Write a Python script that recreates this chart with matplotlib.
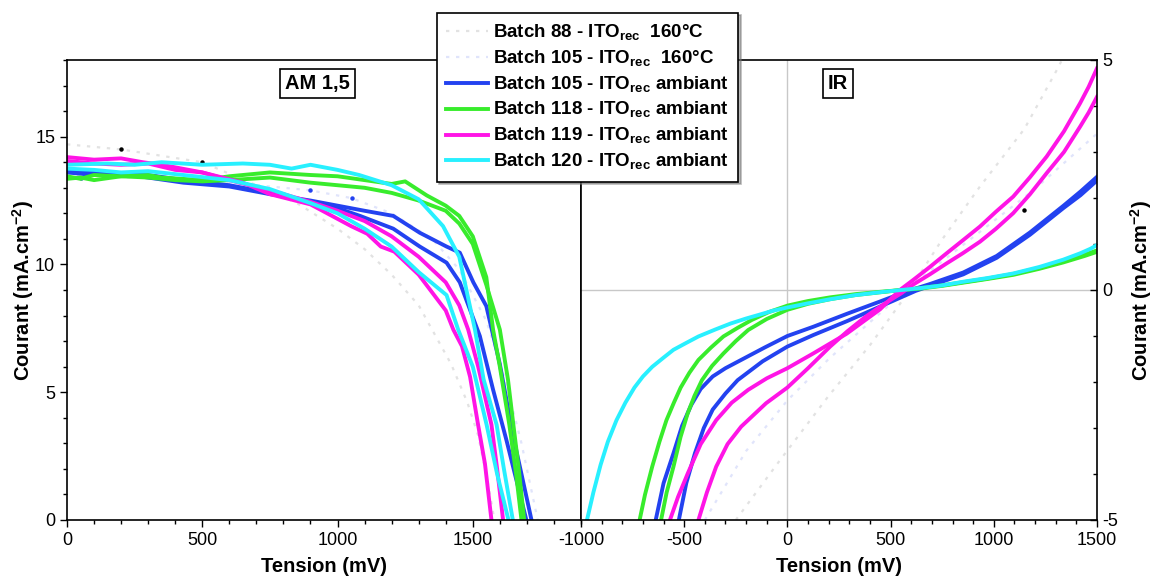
import matplotlib
matplotlib.use("Agg")
import matplotlib.pyplot as plt
from matplotlib.ticker import MultipleLocator
from matplotlib.lines import Line2D

plt.rcParams['font.family'] = ['Liberation Sans', 'DejaVu Sans']
plt.rcParams['mathtext.fontset'] = 'custom'
plt.rcParams['mathtext.rm'] = 'Liberation Sans'
plt.rcParams['mathtext.bf'] = 'Liberation Sans:bold'
plt.rcParams['axes.unicode_minus'] = False

# ---------------- data: AM 1,5 panel (tension mV, courant mA.cm-2) ----------------
am_b88_160_v = [0, 200, 500, 700, 850, 1000, 1100, 1200, 1300, 1420, 1480, 1520, 1555, 1580]
am_b88_160_j = [14.7, 14.5, 14.0, 13.1, 12.4, 11.4, 10.6, 9.6, 8.4, 6.1, 4.6, 3.3, 1.5, 0]
am_b105_160_v = [0, 500, 900, 1050, 1200, 1350, 1450, 1550, 1620, 1680, 1740]
am_b105_160_j = [13.5, 13.3, 12.9, 12.6, 12.0, 11.0, 9.8, 7.8, 5.5, 3.0, 0]
am_b88_mark_v = [200, 500]
am_b88_mark_j = [14.5, 14.0]
am_b105_mark_v = [50, 898, 1053]
am_b105_mark_j = [13.4, 12.9, 12.6]

am_b105a_v = [0, 100, 200, 300, 430, 600, 750, 900, 1000, 1083, 1206, 1304, 1403, 1452, 1526, 1575, 1625, 1698]
am_b105a_j = [13.7, 13.6, 13.55, 13.5, 13.3, 13.1, 12.8, 12.45, 12.2, 11.9, 11.4, 10.7, 10.07, 9.3, 7.2, 5.1, 3.1, 0]
am_b105b_v = [0, 100, 200, 300, 430, 600, 750, 900, 1000, 1100, 1206, 1304, 1403, 1452, 1502, 1550, 1600, 1649, 1717]
am_b105b_j = [13.6, 13.5, 13.55, 13.4, 13.2, 13.05, 12.75, 12.5, 12.3, 12.1, 11.9, 11.24, 10.7, 10.46, 9.3, 8.37, 6.1, 3.3, 0]

am_b118a_v = [0, 50, 100, 200, 300, 350, 500, 600, 750, 900, 1000, 1100, 1200, 1250, 1330, 1400, 1450, 1500, 1550, 1575, 1600, 1635, 1660, 1680]
am_b118a_j = [13.45, 13.35, 13.5, 13.45, 13.5, 13.4, 13.3, 13.45, 13.6, 13.5, 13.45, 13.3, 13.15, 13.25, 12.7, 12.3, 11.9, 11.1, 9.5, 7.45, 6.0, 3.73, 1.8, 0]
am_b118b_v = [0, 50, 100, 200, 300, 400, 500, 600, 750, 900, 1000, 1100, 1200, 1300, 1400, 1450, 1500, 1550, 1600, 1630, 1650, 1670, 1690]
am_b118b_j = [13.35, 13.4, 13.3, 13.45, 13.4, 13.3, 13.25, 13.3, 13.4, 13.2, 13.1, 13.0, 12.8, 12.5, 12.1, 11.6, 10.8, 9.2, 7.45, 5.5, 3.73, 2.0, 0]

am_b119a_v = [0, 100, 200, 280, 350, 500, 650, 750, 900, 1050, 1110, 1160, 1210, 1300, 1400, 1428, 1460, 1490, 1520, 1545, 1569]
am_b119a_j = [14.2, 14.1, 14.15, 14.0, 13.9, 13.6, 13.2, 12.75, 12.35, 11.5, 11.2, 10.7, 10.5, 9.6, 8.2, 7.45, 6.8, 5.6, 3.7, 2.2, 0]
am_b119b_v = [0, 100, 200, 300, 400, 500, 600, 750, 900, 1000, 1100, 1200, 1300, 1400, 1450, 1483, 1520, 1569, 1590, 1612]
am_b119b_j = [14.05, 13.95, 13.9, 13.95, 13.7, 13.6, 13.3, 12.9, 12.45, 12.1, 11.7, 11.1, 10.3, 9.3, 8.4, 7.45, 6.0, 3.73, 2.0, 0]

am_b120a_v = [0, 150, 250, 350, 500, 650, 750, 830, 900, 1000, 1080, 1200, 1300, 1390, 1450, 1508, 1540, 1588, 1615, 1648]
am_b120a_j = [13.9, 13.95, 13.9, 14.0, 13.9, 13.95, 13.9, 13.75, 13.9, 13.7, 13.5, 13.1, 12.55, 11.5, 10.3, 7.45, 5.5, 3.73, 2.0, 0]
am_b120b_v = [0, 100, 200, 300, 430, 600, 750, 900, 1000, 1100, 1200, 1300, 1403, 1446, 1500, 1551, 1590, 1632]
am_b120b_j = [13.75, 13.7, 13.6, 13.65, 13.5, 13.3, 12.95, 12.4, 12.0, 11.4, 10.7, 9.7, 8.8, 7.45, 6.0, 3.73, 1.8, 0]

# ---------------- data: IR panel ----------------
ir_b88_160_v = [-250, -36, 200, 400, 578, 750, 933, 1148, 1305, 1330]
ir_b88_160_j = [-5, -3.7, -2.3, -1.2, -0.1, 1.1, 2.25, 3.5, 4.78, 5]
ir_b105_160_v = [-400, -200, 0, 200, 400, 600, 800, 1000, 1200, 1400, 1500]
ir_b105_160_j = [-5, -3.5, -2.4, -1.5, -0.7, 0.1, 0.8, 1.5, 2.2, 3.0, 3.4]
ir_b88_mark_v = [1148]
ir_b88_mark_j = [1.74]

ir_b105a_v = [-638, -600, -552, -510, -466, -420, -362, -300, -224, -110, 0, 125, 287, 449, 578, 691, 852, 1014, 1175, 1337, 1420, 1500]
ir_b105a_j = [-5, -4.2, -3.55, -2.95, -2.5, -2.15, -1.88, -1.7, -1.52, -1.25, -1.0, -0.8, -0.52, -0.25, -0.03, 0.13, 0.38, 0.74, 1.25, 1.83, 2.14, 2.46]
ir_b105b_v = [-526, -490, -448, -405, -362, -300, -241, -120, 0, 125, 287, 449, 621, 691, 852, 1014, 1175, 1337, 1420, 1500]
ir_b105b_j = [-5, -4.2, -3.55, -3.0, -2.6, -2.25, -1.96, -1.55, -1.23, -0.98, -0.68, -0.36, -0.02, 0.09, 0.34, 0.7, 1.2, 1.78, 2.06, 2.38]

ir_b118a_v = [-716, -690, -655, -620, -586, -550, -517, -475, -431, -370, -310, -240, -172, -90, 0, 100, 207, 330, 449, 552, 642, 750, 852, 970, 1095, 1220, 1337, 1440, 1500]
ir_b118a_j = [-5, -4.45, -3.84, -3.3, -2.83, -2.45, -2.12, -1.8, -1.52, -1.25, -1.01, -0.82, -0.65, -0.48, -0.34, -0.24, -0.16, -0.09, -0.04, 0.0, 0.03, 0.09, 0.16, 0.24, 0.33, 0.46, 0.6, 0.74, 0.83]
ir_b118b_v = [-612, -585, -552, -518, -483, -450, -414, -365, -310, -250, -190, -100, 0, 100, 207, 330, 449, 552, 642, 750, 852, 970, 1095, 1220, 1337, 1440, 1500]
ir_b118b_j = [-5, -4.4, -3.84, -3.2, -2.68, -2.3, -1.96, -1.65, -1.38, -1.11, -0.87, -0.63, -0.43, -0.3, -0.2, -0.11, -0.05, 0.0, 0.04, 0.1, 0.17, 0.25, 0.35, 0.48, 0.62, 0.77, 0.86]

ir_b119a_v = [-569, -530, -483, -420, -345, -270, -190, -100, 0, 125, 287, 449, 545, 610, 690, 772, 850, 933, 1010, 1094, 1175, 1256, 1340, 1418, 1460, 1500]
ir_b119a_j = [-5, -4.5, -3.99, -3.35, -2.83, -2.45, -2.17, -1.92, -1.7, -1.38, -0.95, -0.42, 0.0, 0.22, 0.5, 0.8, 1.08, 1.38, 1.7, 2.03, 2.45, 2.9, 3.45, 4.06, 4.42, 4.82]
ir_b119b_v = [-431, -390, -345, -290, -224, -160, -103, 0, 100, 207, 290, 379, 470, 552, 610, 690, 772, 850, 933, 1010, 1094, 1175, 1256, 1340, 1418, 1460, 1500]
ir_b119b_j = [-5, -4.4, -3.84, -3.35, -2.97, -2.7, -2.46, -2.12, -1.7, -1.23, -0.9, -0.58, -0.3, -0.07, 0.12, 0.34, 0.58, 0.8, 1.05, 1.33, 1.67, 2.08, 2.54, 3.0, 3.55, 3.86, 4.2]

ir_b120a_v = [-971, -940, -905, -870, -828, -785, -741, -700, -655, -600, -552, -490, -431, -350, -276, -200, -138, -70, 0, 100, 207, 330, 465, 552, 642, 750, 852, 970, 1095, 1220, 1337, 1420, 1470, 1500]
ir_b120a_j = [-5, -4.4, -3.8, -3.3, -2.83, -2.45, -2.12, -1.88, -1.67, -1.47, -1.3, -1.15, -1.01, -0.86, -0.73, -0.62, -0.54, -0.45, -0.38, -0.29, -0.2, -0.11, -0.04, 0.0, 0.04, 0.1, 0.18, 0.26, 0.36, 0.5, 0.66, 0.8, 0.9, 0.98]

xticks_am = [0, 500, 1000, 1500]
yticks_am = [0, 5, 10, 15]
xticks_ir = [-1000, -500, 0, 500, 1000, 1500]
yticks_ir = [-5, 0, 5]

labels = [r"Batch 88 - ITO$_{\mathbf{rec}}$  160°C",
          r"Batch 105 - ITO$_{\mathbf{rec}}$  160°C",
          r"Batch 105 - ITO$_{\mathbf{rec}}$ ambiant",
          r"Batch 118 - ITO$_{\mathbf{rec}}$ ambiant",
          r"Batch 119 - ITO$_{\mathbf{rec}}$ ambiant",
          r"Batch 120 - ITO$_{\mathbf{rec}}$ ambiant"]

# ---------------- styles ----------------
c88 = '#e2e2e2'
c105h = '#e0e4fb'
cblue = '#2342f0'
cgreen = '#38ec2c'
cmag = '#ff14e6'
ccyan = '#28f0ff'
LW = 2.8
FAINT = (0, (1.5, 3))

fig = plt.figure(figsize=(11.53, 5.77), dpi=100)
ax1 = fig.add_axes([67/1153, 1-520/577, 514/1153, 460/577])
ax2 = fig.add_axes([581/1153, 1-520/577, 516/1153, 460/577])

# left panel
ax1.plot(am_b88_160_v, am_b88_160_j, ls=FAINT, color=c88, lw=1.6)
ax1.plot(am_b105_160_v, am_b105_160_j, ls=FAINT, color=c105h, lw=1.6)
ax1.plot(am_b88_mark_v, am_b88_mark_j, 'o', color='black', ms=2.2, ls='none')
ax1.plot(am_b105_mark_v, am_b105_mark_j, 'o', color=cblue, ms=2.2, ls='none')
for v, j, c in [(am_b105a_v, am_b105a_j, cblue), (am_b105b_v, am_b105b_j, cblue),
                (am_b118a_v, am_b118a_j, cgreen), (am_b118b_v, am_b118b_j, cgreen),
                (am_b119a_v, am_b119a_j, cmag), (am_b119b_v, am_b119b_j, cmag),
                (am_b120a_v, am_b120a_j, ccyan), (am_b120b_v, am_b120b_j, ccyan)]:
    ax1.plot(v, j, color=c, lw=LW, solid_joinstyle='round')

ax1.set_xlim(0, 1900)
ax1.set_ylim(0, 18)
ax1.set_xticks(xticks_am)
ax1.set_yticks(yticks_am)
ax1.xaxis.set_minor_locator(MultipleLocator(100))
ax1.yaxis.set_minor_locator(MultipleLocator(1))
ax1.tick_params(which='both', direction='out', labelsize=13, width=1)
ax1.tick_params(which='major', length=5)
ax1.tick_params(which='minor', length=3)
ax1.set_xlabel("Tension (mV)", fontsize=14.5, fontweight='bold', labelpad=6)
ax1.set_ylabel(r"Courant (mA.cm$^{\mathbf{-2}}$)", fontsize=14.5, fontweight='bold', labelpad=-1)
ax1.text(0.488, 0.948, "AM 1,5", transform=ax1.transAxes, ha='center', va='center',
         fontsize=14.5, fontweight='bold',
         bbox=dict(boxstyle='square,pad=0.25', fc='white', ec='black', lw=1.2))

# right panel
ax2.axhline(0, color='#c8c8c8', lw=1, zorder=0)
ax2.axvline(0, color='#c8c8c8', lw=1, zorder=0)
ax2.plot(ir_b88_160_v, ir_b88_160_j, ls=FAINT, color=c88, lw=1.6)
ax2.plot(ir_b105_160_v, ir_b105_160_j, ls=FAINT, color=c105h, lw=1.6)
ax2.plot(ir_b88_mark_v, ir_b88_mark_j, 'o', color='black', ms=2.2, ls='none')
for v, j, c in [(ir_b105a_v, ir_b105a_j, cblue), (ir_b105b_v, ir_b105b_j, cblue),
                (ir_b118a_v, ir_b118a_j, cgreen), (ir_b118b_v, ir_b118b_j, cgreen),
                (ir_b119a_v, ir_b119a_j, cmag), (ir_b119b_v, ir_b119b_j, cmag),
                (ir_b120a_v, ir_b120a_j, ccyan)]:
    ax2.plot(v, j, color=c, lw=LW, solid_joinstyle='round')

ax2.set_xlim(-1000, 1500)
ax2.set_ylim(-5, 5)
ax2.set_xticks(xticks_ir)
ax2.set_yticks(yticks_ir)
ax2.xaxis.set_minor_locator(MultipleLocator(100))
ax2.yaxis.set_minor_locator(MultipleLocator(1))
ax2.yaxis.tick_right()
ax2.yaxis.set_label_position('right')
ax2.tick_params(axis='x', which='both', direction='out', labelsize=13, width=1)
ax2.tick_params(axis='y', which='both', direction='in', labelsize=13, width=1, pad=4)
ax2.tick_params(which='major', length=5)
ax2.tick_params(which='minor', length=3)
ax2.set_xlabel("Tension (mV)", fontsize=14.5, fontweight='bold', labelpad=6)
ax2.set_ylabel(r"Courant (mA.cm$^{\mathbf{-2}}$)", fontsize=14.5, fontweight='bold',
               rotation=90, labelpad=7)
ax2.text(0.498, 0.948, "IR", transform=ax2.transAxes, ha='center', va='center',
         fontsize=14.5, fontweight='bold',
         bbox=dict(boxstyle='square,pad=0.25', fc='white', ec='black', lw=1.2))

for ax in (ax1, ax2):
    for s in ax.spines.values():
        s.set_linewidth(1.2)

handles = [Line2D([], [], ls=FAINT, color=c88, lw=1.6),
           Line2D([], [], ls=FAINT, color=c105h, lw=1.6),
           Line2D([], [], color=cblue, lw=LW),
           Line2D([], [], color=cgreen, lw=LW),
           Line2D([], [], color=cmag, lw=LW),
           Line2D([], [], color=ccyan, lw=LW)]
leg = fig.legend(handles, labels, loc='upper left', bbox_to_anchor=(437/1153, 1-13/577),
                 prop={'weight': 'bold', 'size': 13.5}, frameon=True, fancybox=False,
                 edgecolor='black', framealpha=1, handlelength=2.2, handletextpad=0.3,
                 borderpad=0.5, labelspacing=0.3, borderaxespad=0,
                 shadow={'ox': 1.5, 'oy': -1.5, 'color': '0.45'})
leg.get_frame().set_linewidth(1.2)
leg.set_zorder(10)

fig.savefig("out.png", dpi=100)
